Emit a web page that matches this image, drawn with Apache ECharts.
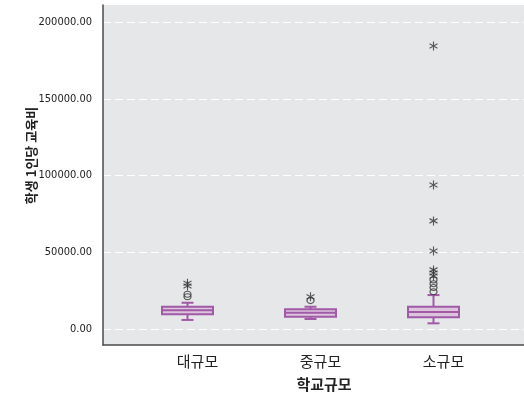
<!DOCTYPE html>
<html><head><meta charset="utf-8">
<script src="https://cdn.jsdelivr.net/npm/echarts@6/dist/echarts.min.js"></script>
<style>html,body{margin:0;padding:0;background:#fff}#c{width:524px;height:401px}</style>
</head><body><div id="c"></div>
<script>
const categories = ['대규모', '중규모', '소규모'];
// [min, Q1, median, Q3, max]
const boxStats = [
  [5900, 9600, 12200, 14500, 17100],
  [6500, 8000, 10600, 12800, 14500],
  [3700, 7600, 11100, 14500, 22100]
];
// outliers (circle) [categoryIndex, value]
const outliersCircle = [
  [0, 21000], [0, 22600],
  [1, 18500],
  [2, 24300], [2, 27000], [2, 29500], [2, 32000]
];
// extreme values (star) [categoryIndex, value]
const outliersStar = [
  [0, 28000], [0, 29800],
  [1, 21000],
  [2, 34500], [2, 36500], [2, 38500], [2, 50800], [2, 70400], [2, 93800], [2, 184400]
];
const yTicks = { min: 0, max: 200000, interval: 50000 };

const purple = '#a05aa6';
const boxFill = '#dcc4dd';
const fontNum = "'Liberation Sans Narrow','DejaVu Sans Condensed',Arial,sans-serif";
const fontKr = "'Noto Sans CJK KR','Noto Sans',sans-serif";

const chart = echarts.init(document.getElementById('c'), null, {renderer: 'canvas'});
const option = {
  animation: false,
  grid: [
    {left: 103, right: 0, top: 5, bottom: 56, show: true, backgroundColor: '#e6e7e9', borderWidth: 0},
    {left: 103, right: 0, top: 22, bottom: 72},
    {left: 126, right: 29, top: 22, bottom: 72}
  ],
  xAxis: [
    {gridIndex: 0, type: 'value', min: 0, max: 1, axisLine: {show: true, onZero: false, lineStyle: {color: '#4a4a4a', width: 1.5}}, axisTick: {show: false}, axisLabel: {show: false}, splitLine: {show: false}},
    {gridIndex: 1, type: 'value', min: 0, max: 1, show: false},
    {gridIndex: 2, type: 'category', data: categories, boundaryGap: true,
      axisLine: {show: false}, axisTick: {show: false},
      axisLabel: {margin: 25, fontSize: 15, color: '#222', fontFamily: fontKr, padding: [0, 0, 0, 20]},
      name: '학교규모', nameLocation: 'middle', nameGap: 48,
      nameTextStyle: {fontSize: 15, fontWeight: 'bold', color: '#222', fontFamily: fontKr, padding: [0, 0, 0, 27]}
    }
  ],
  yAxis: [
    {gridIndex: 0, type: 'value', min: 0, max: 1, axisLine: {show: true, onZero: false, lineStyle: {color: '#4a4a4a', width: 1.5}}, axisTick: {show: false}, axisLabel: {show: false}, splitLine: {show: false}},
    {gridIndex: 1, type: 'value', min: yTicks.min, max: yTicks.max, interval: yTicks.interval,
      axisLine: {show: false}, axisTick: {show: false},
      axisLabel: {margin: 11, fontSize: 11, color: '#222', fontFamily: fontNum, formatter: v => v.toFixed(2)},
      splitLine: {show: true, lineStyle: {color: '#ffffff', type: [8, 4], width: 1.2}},
      name: '학생 1인당 교육비', nameLocation: 'middle', nameGap: 65, nameMoveOverlap: false,
      nameTextStyle: {fontSize: 13, fontWeight: 'bold', color: '#222', fontFamily: fontKr, padding: [0, 0, 0, 40]}
    },
    {gridIndex: 2, type: 'value', min: yTicks.min, max: yTicks.max, show: false}
  ],
  series: [
    {
      type: 'custom', xAxisIndex: 2, yAxisIndex: 2,
      data: boxStats.map((s, i) => [i].concat(s)),
      renderItem: function (params, api) {
        const i = api.value(0);
        const pMin = api.coord([i, api.value(1)]);
        const pQ1 = api.coord([i, api.value(2)]);
        const pMed = api.coord([i, api.value(3)]);
        const pQ3 = api.coord([i, api.value(4)]);
        const pMax = api.coord([i, api.value(5)]);
        const x = pMed[0];
        const hw = 25.5, cw = 6;
        const ls = {stroke: purple, lineWidth: 2, fill: null};
        return {
          type: 'group',
          children: [
            {type: 'line', shape: {x1: x, y1: pQ3[1], x2: x, y2: pMax[1]}, style: ls},
            {type: 'line', shape: {x1: x, y1: pQ1[1], x2: x, y2: pMin[1]}, style: ls},
            {type: 'line', shape: {x1: x - cw, y1: pMax[1], x2: x + cw, y2: pMax[1]}, style: ls},
            {type: 'line', shape: {x1: x - cw, y1: pMin[1], x2: x + cw, y2: pMin[1]}, style: ls},
            {type: 'rect', shape: {x: x - hw, y: pQ3[1], width: hw * 2, height: pQ1[1] - pQ3[1]}, style: {fill: boxFill, stroke: purple, lineWidth: 2}},
            {type: 'line', shape: {x1: x - hw, y1: pMed[1], x2: x + hw, y2: pMed[1]}, style: ls}
          ]
        };
      }
    },
    {
      type: 'scatter', xAxisIndex: 2, yAxisIndex: 2, data: outliersCircle,
      symbol: 'circle', symbolSize: [7, 6],
      itemStyle: {color: 'rgba(0,0,0,0)', borderColor: '#333', borderWidth: 1.2}
    },
    {
      type: 'scatter', xAxisIndex: 2, yAxisIndex: 2, data: outliersStar,
      symbol: 'path://M0,-5L0,5M-4.33,-2.5L4.33,2.5M-4.33,2.5L4.33,-2.5', symbolSize: [8, 9],
      itemStyle: {color: 'rgba(0,0,0,0)', borderColor: '#333', borderWidth: 1.2}
    }
  ]
};
chart.setOption(option);
</script>
</body></html>
